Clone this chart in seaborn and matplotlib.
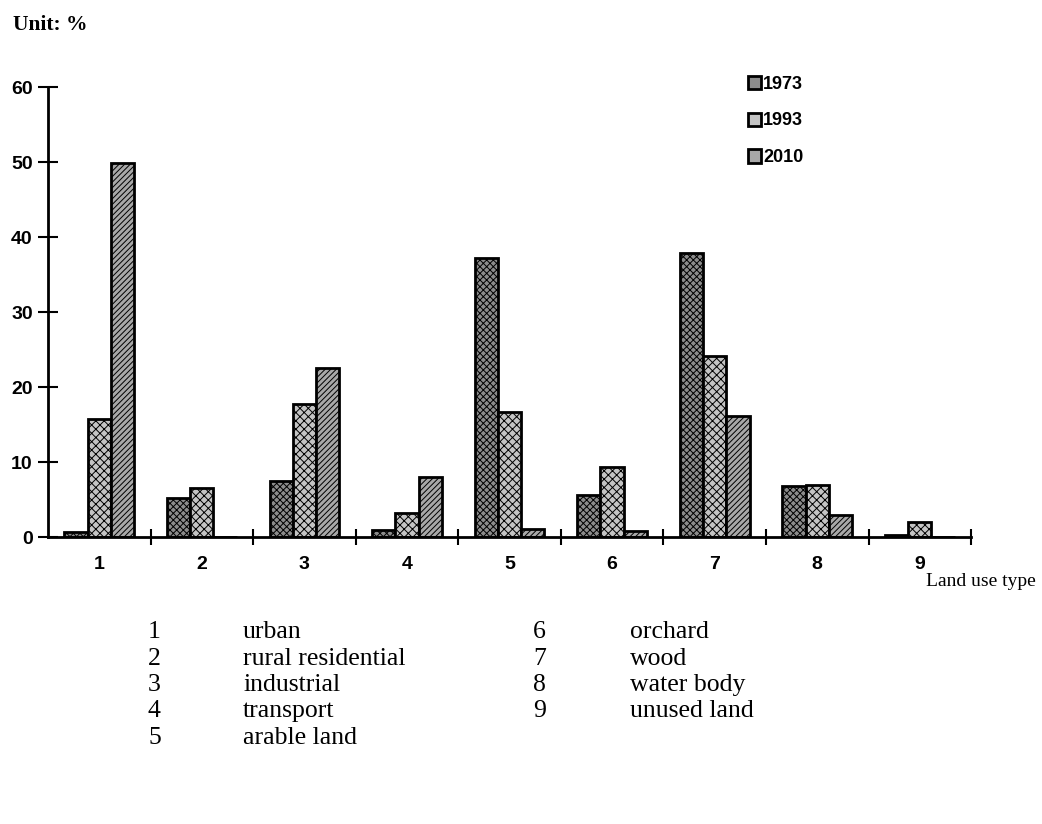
import numpy as np
import pandas as pd
import matplotlib
matplotlib.use("Agg")
import matplotlib.pyplot as plt
import seaborn as sns

# ---------------------------------------------------------------------------
# Data (unit: %)
# ---------------------------------------------------------------------------
land_types = ["1", "2", "3", "4", "5", "6", "7", "8", "9"]
years = ["1973", "1993", "2010"]
share_1973 = [0.7, 5.2, 7.5, 0.9, 37.2, 5.6, 37.9, 6.8, 0.3]
share_1993 = [15.8, 6.5, 17.8, 3.2, 16.7, 9.3, 24.2, 6.9, 2.0]
share_2010 = [49.9, 0.0, 22.5, 8.0, 1.1, 0.8, 16.2, 3.0, 0.0]

type_names_left = ["urban", "rural residential", "industrial", "transport", "arable land"]
type_names_right = ["orchard", "wood", "water body", "unused land"]

YEAR_COLORS = ["#8c8c8c", "#c4c4c4", "#a8a8a8"]
YEAR_HATCHES = ["xxxxx", "xxxx", "//////"]

df = pd.DataFrame({
    "type": land_types * 3,
    "year": [y for y in years for _ in land_types],
    "share": share_1973 + share_1993 + share_2010,
})

sns.set_style("white")
plt.rcParams["hatch.linewidth"] = 0.7
plt.rcParams["text.color"] = "black"
bold_sans = {"family": "Liberation Sans", "weight": "bold"}
serif = "Liberation Serif"

fig = plt.figure(figsize=(10.42, 8.24), dpi=100)
ax = fig.add_axes([0.046, 0.3483, 0.886, 0.5459])

sns.barplot(data=df, x="type", y="share", hue="year", palette=YEAR_COLORS,
            width=0.68, edgecolor="black", linewidth=2, ax=ax, legend=True)

for container, hatch in zip(ax.containers, YEAR_HATCHES):
    for bar in container:
        bar.set_hatch(hatch)

ax.set_xlim(-0.5, 8.5)
ax.set_ylim(0, 60)
ax.set_yticks(range(0, 61, 10))
ax.set_xlabel("")
ax.set_ylabel("")

# boundary ticks between categories
ax.set_xticks(np.arange(0.5, 9.0, 1.0), minor=True)
ax.tick_params(axis="x", which="major", length=0, pad=14, colors="black")
ax.tick_params(axis="x", which="minor", bottom=True, direction="inout",
               length=12, width=1.5, color="black")
ax.tick_params(axis="y", left=True, direction="inout", length=14, width=1.5,
               pad=4, colors="black")
for lab in ax.get_xticklabels() + ax.get_yticklabels():
    lab.set_fontproperties(bold_sans)
    lab.set_fontsize(14)

sns.despine(ax=ax)
for side in ["left", "bottom"]:
    ax.spines[side].set_linewidth(2)
    ax.spines[side].set_color("black")

handles, labels = ax.get_legend_handles_labels()
ax.get_legend().remove()
leg = fig.legend(handles, labels, loc="upper left", bbox_to_anchor=(0.702, 0.928),
                 frameon=False, handlelength=0.75, handleheight=0.75,
                 handletextpad=0.1, labelspacing=1.1,
                 prop={"family": "Liberation Sans", "weight": "bold", "size": 13})
for t in leg.get_texts():
    t.set_color("black")

fig.text(13 / 1042, 1 - 25 / 824, "Unit: %", family=serif, weight="bold",
         fontsize=15.5, va="center", ha="left")
fig.text(1036 / 1042, 1 - 582 / 824, "Land use type", family=serif,
         fontsize=14, va="center", ha="right")

row_y = [632, 659, 685, 711, 738]
for i, name in enumerate(type_names_left):
    y = 1 - row_y[i] / 824
    fig.text(148 / 1042, y, str(i + 1), family=serif, fontsize=18.5, va="center")
    fig.text(243 / 1042, y, name, family=serif, fontsize=18.5, va="center")
for i, name in enumerate(type_names_right):
    y = 1 - row_y[i] / 824
    fig.text(533 / 1042, y, str(i + 6), family=serif, fontsize=18.5, va="center")
    fig.text(630 / 1042, y, name, family=serif, fontsize=18.5, va="center")

fig.savefig("out.png", dpi=100)
